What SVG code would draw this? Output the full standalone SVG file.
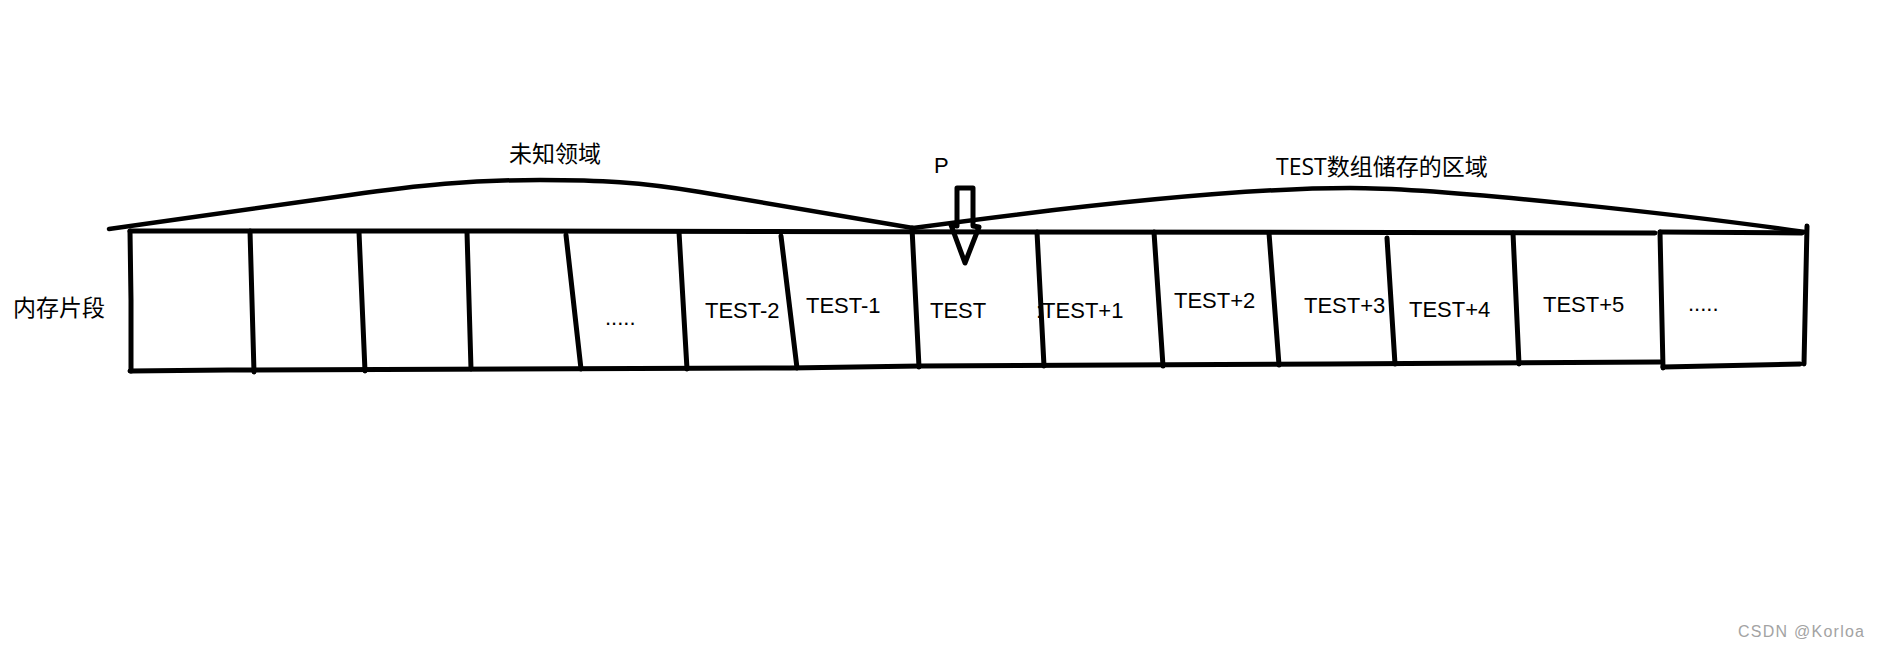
<svg xmlns="http://www.w3.org/2000/svg" width="1879" height="648" viewBox="0 0 1879 648">
<style>
.ln{fill:none;stroke:#000;stroke-width:5;stroke-linecap:round;stroke-linejoin:round}
.arc{fill:none;stroke:#000;stroke-width:4.5;stroke-linecap:round;stroke-linejoin:round}
.cell{font-family:"Liberation Sans",Arial,sans-serif;font-size:22px;fill:#000}
.cjk{font-family:"Open Sans","Noto Sans CJK SC",sans-serif;font-size:23px;fill:#000}
.wm{font-family:"Liberation Sans",Arial,sans-serif;font-size:16px;fill:#a3a3a3}
</style>
<rect width="1879" height="648" fill="#fff"/>
<g id="memory-frame">
<path class="ln" d="M130,231 L510,231 L1655,233"/>
<path class="ln" d="M130,231 L131,300 L131,371"/>
<path class="ln" d="M130,371 L228,370 L790,368 L920,366 L1120,365 L1330,364 L1660,362"/>
</g>
<g id="dividers">
<path class="ln" d="M250,231 L254,372"/>
<path class="ln" d="M359,232 L365,371"/>
<path class="ln" d="M467,232 L471,369"/>
<path class="ln" d="M566,235 L581,369"/>
<path class="ln" d="M679,232 L687,369"/>
<path class="ln" d="M781,236 L797,368"/>
<path class="ln" d="M912,228 L919,367"/>
<path class="ln" d="M1037,232 L1044,366"/>
<path class="ln" d="M1154,232 L1163,366"/>
<path class="ln" d="M1269,233 L1279,365"/>
<path class="ln" d="M1387,238 L1395,364"/>
<path class="ln" d="M1513,233 L1519,364"/>
</g>
<g id="last-box">
<path class="ln" d="M1660,232 L1802,233"/>
<path class="ln" d="M1660,232 L1663,368"/>
<path class="ln" d="M1663,367 L1800,364"/>
<path class="ln" d="M1807,226 L1804,364"/>
<text class="cell" x="1688" y="311" font-size="20">.....</text>
</g>
<g id="connectors">
<path id="brace-unknown" class="arc" d="M109,229 L350,195 C420,185 470,180 540,180 C600,180 640,182 700,192 L913,228"/>
<path id="brace-test" class="arc" d="M913,228 C1060,208 1230,188 1350,188 C1450,188 1700,217 1805,232"/>
</g>
<g id="pointer-p">
<path class="ln" d="M957,226 L957,188 L973,188 L973,226 L979,227 L965,263 L951,225 Z"/>
<text class="cell" x="934" y="173">P</text>
</g>
<g id="label-unknown"><text class="cjk" x="555" y="162" text-anchor="middle">未知领域</text></g>
<g id="label-test-region"><text class="cjk" x="1276" y="175">TEST数组储存的区域</text></g>
<g id="label-memory"><text class="cjk" x="13" y="316">内存片段</text></g>
<g id="cell-dots1"><text class="cell" x="605" y="325" font-size="20">.....</text></g>
<g id="cell-test-2"><text class="cell" x="705" y="318">TEST-2</text></g>
<g id="cell-test-1"><text class="cell" x="806" y="313">TEST-1</text></g>
<g id="cell-test"><text class="cell" x="930" y="318">TEST</text></g>
<g id="cell-test+1"><text class="cell" x="1036" y="318">:TEST+1</text></g>
<g id="cell-test+2"><text class="cell" x="1174" y="308">TEST+2</text></g>
<g id="cell-test+3"><text class="cell" x="1304" y="313">TEST+3</text></g>
<g id="cell-test+4"><text class="cell" x="1409" y="317">TEST+4</text></g>
<g id="cell-test+5"><text class="cell" x="1543" y="312">TEST+5</text></g>
<g id="watermark"><text class="wm" x="1738" y="637" textLength="126" lengthAdjust="spacing">CSDN @Korloa</text></g>
</svg>
